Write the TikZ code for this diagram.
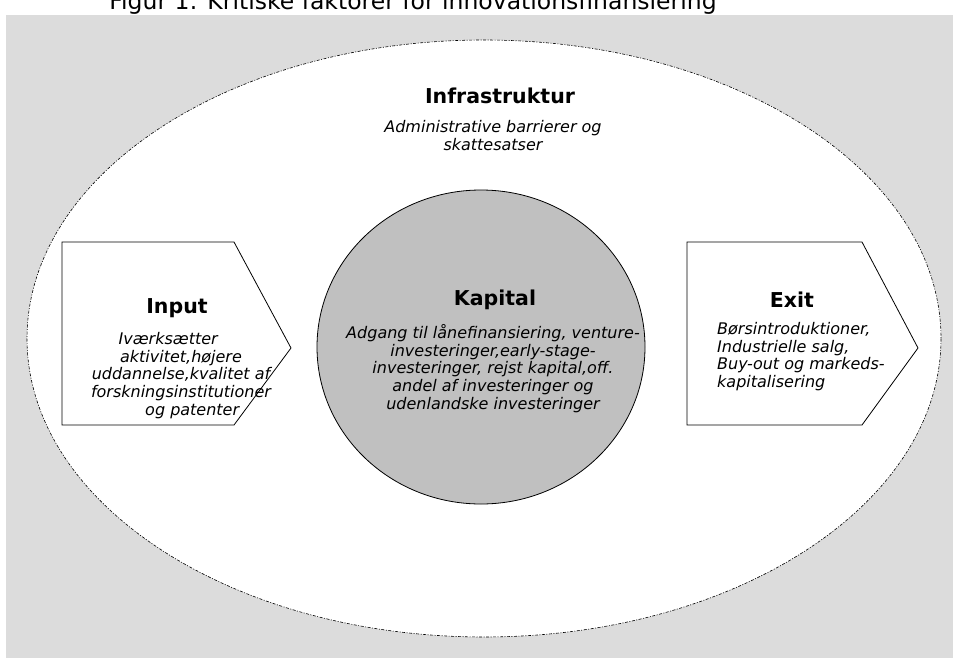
\documentclass[tikz,border=0pt]{standalone}
\usepackage{fontspec}
\setmainfont{DejaVu Sans}
\definecolor{bggray}{RGB}{220,220,220}
\definecolor{capgray}{RGB}{192,192,192}
\begin{document}
\begin{tikzpicture}[x=1pt,y=-1pt,
  ttl/.style={font=\bfseries\fontsize{20.5}{24}\selectfont, inner sep=0pt, anchor=base},
  body/.style={font=\itshape\fontsize{16}{17.8}\selectfont, inner sep=0pt, anchor=north, align=center},
  arrowbox/.style={draw=black, line width=0.8pt, fill=white, line join=miter},
  infra/.style={draw=black, line width=0.6pt, fill=white, dash pattern=on 3pt off 1.5pt on 1pt off 1.5pt}
]
\useasboundingbox (0,0) rectangle (953,659);
\fill[bggray] (6,15) rectangle (953,658);
\node[font=\fontsize{23.5}{28}\selectfont, inner sep=0pt, anchor=base] (fig) at (413,9) {Figur 1: Kritiske faktorer for innovationsfinansiering};
% infrastructure ellipse
\draw[infra] (484,338.5) ellipse [x radius=457, y radius=298.5];
% input arrow box
\draw[arrowbox] (62,242) -- (234,242) -- (291,348) -- (234,425) -- (62,425) -- cycle;
% exit arrow box
\draw[arrowbox] (687,242) -- (862,242) -- (918,348) -- (862,425) -- (687,425) -- cycle;
% capital circle
\draw[fill=capgray, draw=black, line width=0.8pt] (481,347) ellipse [x radius=164, y radius=157];
% texts
\node[ttl] (infT) at (500,103) {Infrastruktur};
\node[body] (infB) at (493,120) {Administrative barrierer og\\skattesatser};
\node[ttl] (inT) at (177,313.5) {Input};
\node[body] (inB) at (181,332) {Iværksætter\hspace*{1.6em}\\aktivitet,højere\\uddannelse,kvalitet af\\forskningsinstitutioner\\\hspace*{1.4em}og patenter};
\node[ttl] (kapT) at (495,305) {Kapital};
\node[body] (kapB) at (493,324) {Adgang til lånefinansiering, venture-\\investeringer,early-stage-\\investeringer, rejst kapital,off.\\andel af investeringer og\\udenlandske investeringer};
\node[ttl] (exT) at (792,307) {Exit};
\node[body, anchor=north west, align=left] (exB) at (717,322) {Børsintroduktioner,\\Industrielle salg,\\Buy-out og markeds-\\kapitalisering};
\end{tikzpicture}
\end{document}
